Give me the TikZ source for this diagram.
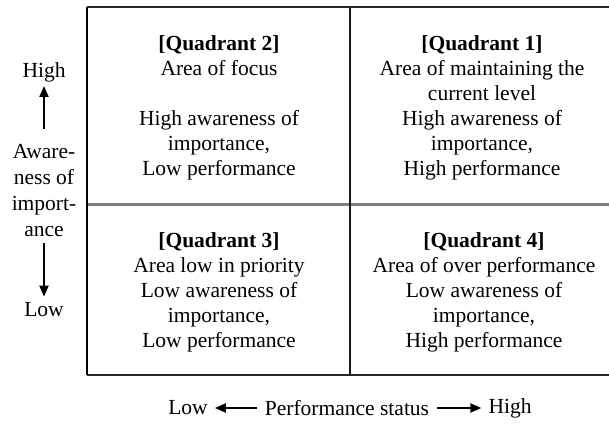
\documentclass[tikz,border=0pt]{standalone}
\usepackage{fontspec}
\setmainfont{Liberation Serif}
\usetikzlibrary{arrows.meta}
\begin{document}
\begin{tikzpicture}[x=1pt,y=1pt,
  txt/.style={align=center, font=\fontsize{21.5}{25}\selectfont, inner sep=0pt},
  ltxt/.style={align=center, font=\fontsize{21.5}{26}\selectfont, inner sep=0pt},
  outer/.style={line width=2pt, draw=black!85},
  side/.style={line width=1.5pt, draw=black},
  midh/.style={line width=2.2pt, draw=black!50},
  midv/.style={line width=1.6pt, draw=black!90},
  axarrow/.style={line width=2pt, -{Triangle[length=11pt,width=9pt]}}]
\useasboundingbox (0,0) rectangle (609,425);
% frame
\coordinate (tl) at (87,418);
\coordinate (tr) at (609,418);
\coordinate (bl) at (87,50.5);
\coordinate (br) at (609,50.5);
\coordinate (ml) at (87,220.5);
\coordinate (mr) at (609,220.5);
\coordinate (mt) at (350,418);
\coordinate (mb) at (350,50.5);
\draw[midh] (ml) -- (mr);
\draw[midv] (mt) -- (mb);
\draw[side] (tl) -- (bl);
\draw[outer] (tl) -- (tr);
\draw[outer] (bl) -- (br);
% quadrants
\node[txt, anchor=north] (q2) at (219,390) {{\bfseries [Quadrant 2]}\\Area of focus\\ \\High awareness of\\importance,\\Low performance};
\node[txt, anchor=north] (q1) at (482,390) {{\bfseries [Quadrant 1]}\\Area of maintaining the\\current level\\High awareness of\\importance,\\High performance};
\node[txt, anchor=north] (q3) at (219,193) {{\bfseries [Quadrant 3]}\\Area low in priority\\Low awareness of\\importance,\\Low performance};
\node[txt, anchor=north] (q4) at (484,193) {{\bfseries [Quadrant 4]}\\Area of over performance\\Low awareness of\\importance,\\High performance};
% vertical axis
\node[txt] (vhigh) at (44,353) {High};
\node[ltxt] (vaware) at (44,234) {Aware-\\ness of\\import-\\ance};
\node[txt] (vlow) at (44,115) {Low};
\draw[axarrow, shorten <=16pt, shorten >=4pt] (vaware.north) -- (vhigh.south);
\draw[axarrow, shorten <=6pt, shorten >=6pt] (vaware.south) -- (vlow.north);
% horizontal axis
\node[txt] (hlow) at (188,17) {Low};
\node[txt] (hperf) at (347,17) {Performance status};
\node[txt] (hhigh) at (510,17) {High};
\draw[axarrow, shorten <=8pt, shorten >=7pt] (hperf.west) -- (hlow.east);
\draw[axarrow, shorten <=8pt, shorten >=7pt] (hperf.east) -- (hhigh.west);
\end{tikzpicture}
\end{document}
